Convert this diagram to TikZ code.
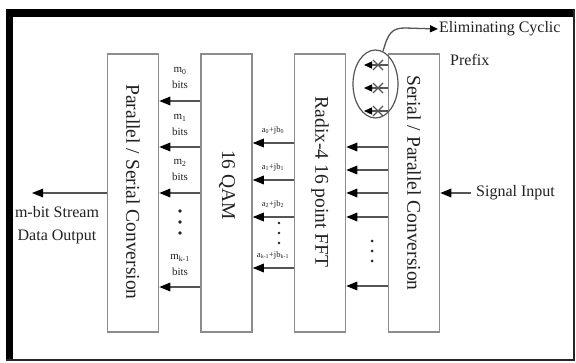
\documentclass[tikz,border=0pt]{standalone}
\usepackage{fontspec}
\setmainfont{Liberation Serif}
\usetikzlibrary{arrows.meta,shapes.geometric}
\newcommand\lsub[1]{\textsubscript{#1}}
\definecolor{boxgray}{HTML}{8C8C8C}
\definecolor{linegray}{HTML}{555555}
\definecolor{inkgray}{HTML}{222222}

\begin{document}
\begin{tikzpicture}[x=1pt,y=-1pt,
  blk/.style={draw=boxgray, line width=1.5pt, fill=white,
    minimum width=51pt, minimum height=278pt, inner sep=0pt},
  vtext/.style={rotate=-90, text=inkgray, font=\fontsize{19.5}{22}\selectfont, inner sep=0pt},
  otext/.style={text=inkgray, font=\fontsize{16}{23}\selectfont},
  mlab/.style={text=inkgray, align=center, font=\fontsize{11}{16}\selectfont, inner sep=0pt},
  alab/.style={text=inkgray, font=\fontsize{8.5}{10}\selectfont, inner sep=0pt},
  arr/.style={draw=linegray, line width=1.6pt,
    -{Triangle[length=11pt,width=8.5pt,color=black]}},
  sarr/.style={draw=linegray, line width=1.3pt,
    -{Triangle[length=8pt,width=7pt,color=black]}},
  dotfill/.style={fill=inkgray}
]
\useasboundingbox (0,0) rectangle (576,363);
\fill[white] (0,0) rectangle (576,363);

% outer frame: heavy left and top, thin right and bottom
\fill[black] (6,9.3) rectangle (12.7,361.5);
\fill[black] (6,9.3) rectangle (574.5,16.7);
\fill[black!85] (572.5,9.3) rectangle (574.5,361.5);
\fill[black!85] (6,359.5) rectangle (574.5,361.5);

% processing blocks
\node[blk] (ps)  at (133,193) {};
\node[blk] (qam) at (226.5,193) {};
\node[blk] (fft) at (320,193) {};
\node[blk] (sp)  at (414,193) {};

\node[vtext] (pst)  at (133,192) {Parallel / Serial Conversion};
\node[vtext] (qamt) at (227,185) {16 QAM};
\node[vtext] (fftt) at (320,182) {Radix-4 16 point FFT};
\node[vtext] (spt)  at (414,183) {Serial / Parallel Conversion};

% row positions
\coordinate (r1) at (0,101);
\coordinate (r2) at (0,147);
\coordinate (r3) at (0,193);
\coordinate (r4) at (0,287);
\coordinate (s1) at (0,143);
\coordinate (s2) at (0,180);
\coordinate (s3) at (0,217);
\coordinate (s4) at (0,268);
\coordinate (t1) at (0,147);
\coordinate (t2) at (0,170);
\coordinate (t3) at (0,193);
\coordinate (t4) at (0,217);
\coordinate (t5) at (0,286);

% 16 QAM -> Parallel / Serial
\foreach \r in {r1,r2,r3,r4}
  \draw[arr] (qam.west |- \r) -- (ps.east |- \r);
\node[mlab] (m0) at (180,78)  {m\lsub{0}\\bits};
\node[mlab] (m1) at (180,125) {m\lsub{1}\\bits};
\node[mlab] (m2) at (180,170) {m\lsub{2}\\bits};
\node[mlab] (mk) at (180,265) {m\lsub{k-1}\\bits};
\foreach \yy in {211,222,233}
  \fill[dotfill] (180,\yy) circle (1.8);

% FFT -> 16 QAM
\foreach \r in {s1,s2,s3,s4}
  \draw[arr] (fft.west |- \r) -- (qam.east |- \r);
\node[alab] (a0) at (273,130) {a\lsub{0}+jb\lsub{0}};
\node[alab] (a1) at (273,167) {a\lsub{1}+jb\lsub{1}};
\node[alab] (a2) at (273,204) {a\lsub{2}+jb\lsub{2}};
\node[alab] (ak) at (273,255) {a\lsub{k-1}+jb\lsub{k-1}};
\foreach \yy in {223,233,243}
  \fill[dotfill] (279,\yy) circle (1.3);

% Serial / Parallel -> FFT
\foreach \r in {t1,t2,t3,t4,t5}
  \draw[arr] (sp.west |- \r) -- (fft.east |- \r);
\foreach \yy in {241,251,261}
  \fill[dotfill] (372,\yy) circle (1.5);

% cyclic prefix outputs, discarded
\node[ellipse, draw=linegray, line width=1.2pt, minimum width=45pt,
  minimum height=68pt, inner sep=0pt] (cp) at (375.5,84) {};
\coordinate (e1) at (364,65);
\coordinate (e2) at (364,88);
\coordinate (e3) at (364,111);
\foreach \e in {e1,e2,e3}{
  \draw[sarr] (sp.west |- \e) -- (\e);
  \draw[linegray, line width=1.1pt] ([xshift=9pt,yshift=5pt]\e) -- ([xshift=19pt,yshift=-5pt]\e)
    ([xshift=9pt,yshift=-5pt]\e) -- ([xshift=19pt,yshift=5pt]\e);
}
\node[otext, anchor=west, inner sep=1pt] (elim) at (438,29) {Eliminating Cyclic};
\node[otext, anchor=west, inner sep=0pt] (pref) at (450,60) {Prefix};
\draw[sarr] (cp.77) .. controls (388,33) and (392,28) .. (405,28) -- (elim.west);

% input and output
\node[otext, anchor=west, inner sep=5pt] (sig) at (471,193) {Signal Input};
\draw[arr] (sig.west) -- (sp.east |- sig.west);
\coordinate (out) at (32,193);
\draw[arr] (ps.west |- out) -- (out);
\node[otext, align=center, inner sep=0pt] (dout) at (57,225) {m-bit Stream\\Data Output};
\end{tikzpicture}
\end{document}
